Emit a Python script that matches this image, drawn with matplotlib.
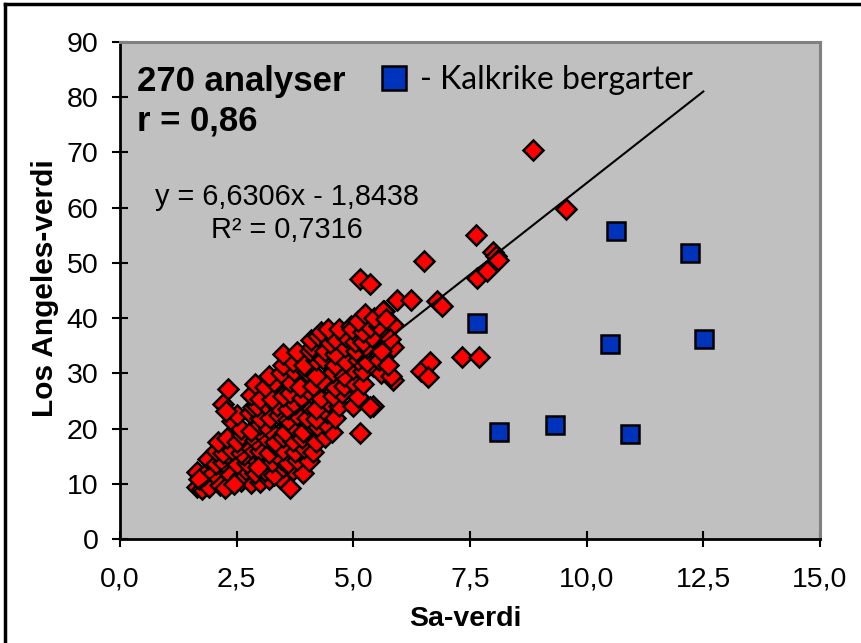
import matplotlib
matplotlib.use("Agg")
import matplotlib.pyplot as plt
from matplotlib.lines import Line2D
import numpy as np

plt.rcParams["font.family"] = ["Liberation Sans", "DejaVu Sans"]

# red diamonds: all analyses except the calcareous rocks
red_x = [
    8.85, 9.55, 7.62, 6.52, 8.00, 8.05, 8.10, 7.64, 7.87, 5.15, 5.36, 5.94, 6.24, 6.80, 6.91,
    7.32, 7.70, 6.44, 6.65, 6.59, 5.85, 5.86, 5.65, 5.84, 5.58, 5.15, 5.43, 5.15,
    1.65, 1.75, 1.90, 2.15, 2.25, 2.60, 2.80, 3.00, 3.20, 3.43, 3.65,
    1.65, 1.80, 2.00, 2.36, 2.58, 2.70, 2.90, 3.10, 3.30, 3.50, 3.70, 3.93, 1.70, 2.45,
    1.89, 2.05, 2.20, 2.36, 2.50, 2.73, 2.90, 3.07, 3.25, 3.45, 3.60, 3.80, 4.05, 2.65,
    2.05, 2.20, 2.40, 2.60, 2.80, 3.00, 3.20, 3.33, 3.50, 3.76, 3.95, 4.14, 2.95,
    2.10, 2.30, 2.50, 2.62, 2.90, 3.10, 3.33, 3.50, 3.70, 3.90, 4.20, 4.40,
    2.40, 2.60, 2.80, 3.00, 3.20, 3.54, 3.70, 3.93, 4.10, 4.23, 4.55, 4.40,
    2.50, 2.79, 3.00, 3.22, 3.40, 3.60, 3.80, 4.00, 4.20, 4.44, 4.60,
    2.21, 2.27, 2.85, 2.94, 3.10, 3.37, 3.60, 3.76, 4.00, 4.20, 4.45, 4.70, 5.00, 5.36,
    2.32, 2.80, 3.00, 3.26, 3.50, 3.65, 3.90, 4.10, 4.30, 4.57, 4.75, 5.09,
    2.90, 3.10, 3.30, 3.65, 3.85, 4.14, 4.35, 4.60, 4.79, 5.00, 5.20,
    3.20, 3.45, 3.72, 4.01, 4.20, 4.57, 4.80, 5.00, 5.20, 5.43, 5.60, 5.80,
    3.50, 3.70, 3.95, 4.20, 4.36, 4.60, 4.85, 5.10, 5.30, 5.55, 5.75,
    3.50, 3.80, 4.08, 4.12, 4.40, 4.60, 4.83, 5.05, 5.30, 5.60,
    4.10, 4.25, 4.50, 4.61, 4.85, 5.04, 5.21, 5.40, 5.79,
    4.30, 4.46, 4.70, 4.94, 4.98, 5.20, 5.36, 5.55,
    5.10, 5.26, 5.45, 5.64, 5.70,
]
red_y = [
    70.4, 59.7, 55.0, 50.4, 52.0, 51.2, 50.5, 47.3, 48.6, 47.0, 46.2, 43.2, 43.3, 43.1, 42.2,
    33.0, 33.0, 30.4, 32.0, 29.3, 28.8, 34.8, 41.2, 38.8, 37.5, 19.2, 24.0, 25.3,
    9.5, 9.0, 9.5, 9.8, 9.3, 10.5, 10.2, 10.4, 10.8, 11.1, 9.2,
    12.2, 11.5, 12.0, 11.7, 11.3, 12.5, 12.0, 12.3, 11.5, 13.1, 12.5, 12.0, 10.8, 10.0,
    14.4, 13.5, 14.0, 14.9, 13.5, 13.8, 14.5, 14.8, 14.0, 14.5, 13.8, 14.3, 14.2, 15.2,
    16.0, 15.5, 16.2, 15.5, 16.5, 16.0, 15.5, 17.1, 16.2, 15.8, 16.5, 15.7, 13.0,
    17.5, 18.2, 17.5, 18.9, 18.0, 18.5, 17.5, 18.5, 17.8, 18.2, 17.5, 18.5,
    21.3, 20.0, 19.5, 20.8, 20.0, 19.3, 20.5, 19.3, 20.8, 20.4, 19.3, 21.0,
    22.5, 22.9, 22.0, 22.0, 22.5, 21.5, 22.5, 22.0, 21.8, 22.9, 22.0,
    24.4, 23.1, 23.9, 24.0, 24.5, 24.0, 23.5, 24.4, 24.5, 23.5, 24.8, 24.0, 24.0, 23.9,
    27.1, 26.0, 25.3, 25.3, 25.9, 26.5, 25.5, 26.5, 25.5, 25.9, 26.5, 25.7,
    28.0, 27.5, 28.5, 28.4, 27.5, 27.7, 28.5, 27.5, 27.7, 28.5, 28.0,
    29.5, 30.0, 30.4, 30.2, 29.5, 30.2, 29.5, 30.8, 30.5, 31.3, 30.0, 29.5,
    31.5, 32.0, 31.5, 32.5, 32.6, 31.5, 32.0, 32.5, 32.0, 32.5, 31.5,
    33.5, 33.9, 34.0, 34.8, 34.0, 33.5, 34.8, 34.0, 34.5, 34.0,
    36.0, 36.8, 35.5, 36.2, 36.5, 35.7, 35.7, 36.5, 36.2,
    37.5, 38.1, 38.0, 38.6, 38.0, 37.5, 38.4, 38.5,
    39.5, 40.8, 40.0, 41.3, 39.8,
]

# blue squares: "Kalkrike bergarter"
blue_x = [7.64, 8.13, 9.33, 10.62, 10.51, 10.92, 12.21, 12.51]
blue_y = [39.1, 19.3, 20.7, 55.8, 35.3, 19.1, 51.8, 36.2]

slope, intercept = 6.6306, -1.8438
trend_x = [1.6, 12.5]

x_ticks = [0, 2.5, 5, 7.5, 10, 12.5, 15]
x_ticklabels = ["0,0", "2,5", "5,0", "7,5", "10,0", "12,5", "15,0"]
y_ticks = list(range(0, 100, 10))

fig = plt.figure(figsize=(8.61, 6.43), dpi=100)
ax = fig.add_axes([120 / 861, 1 - 539 / 643, 700 / 861, 497 / 643])
ax.set_facecolor("#c0c0c0")

ax.plot(red_x, red_y, "D", ms=10, mfc="#ff0000", mec="black", mew=1.8, zorder=3,
        clip_on=False)
ax.plot(blue_x, blue_y, "s", ms=13.5, mfc="#0033bb", mec="black", mew=1.8, zorder=3)
tx = np.array(trend_x)
ax.plot(tx, slope * tx + intercept, color="black", lw=1.5, zorder=4)

ax.set_xlim(0, 15)
ax.set_ylim(0, 90)
ax.set_xticks(x_ticks)
ax.set_xticklabels(x_ticklabels)
ax.set_yticks(y_ticks)
ax.tick_params(direction="inout", length=11, width=1.5, labelsize=20.5)
ax.tick_params(axis="x", pad=14)
ax.tick_params(axis="y", pad=10)

for side in ["left", "bottom"]:
    ax.spines[side].set_linewidth(2)
    ax.spines[side].set_color("black")
for side in ["top", "right"]:
    ax.spines[side].set_linewidth(2.2)
    ax.spines[side].set_color("#808080")

# labels inside the plot area
ax.text(0.36, 81.2, "270 analyser", fontsize=25, fontweight="bold", va="baseline")
ax.text(0.36, 74.0, "r = 0,86", fontsize=25, fontweight="bold", va="baseline")
ax.plot([5.88], [83.4], "s", ms=17.5, mfc="#0033bb", mec="black", mew=1.8, zorder=5)
ax.text(6.42, 81.4, "- Kalkrike bergarter", fontsize=23, va="baseline",
        family=["Lato", "DejaVu Sans"])
ax.text(3.58, 60.5, "y = 6,6306x - 1,8438", fontsize=20.8, ha="center", va="baseline")
ax.text(3.58, 54.5, "R² = 0,7316", fontsize=20.8, ha="center", va="baseline")

fig.text(45 / 861, 1 - 288 / 643, "Los Angeles-verdi", rotation=90, fontsize=21.5,
         fontweight="bold", ha="center", va="center")
fig.text(465 / 861, 1 - 619 / 643, "Sa-verdi", fontsize=20.5, fontweight="bold",
         ha="center", va="center")

# outer chart frame (only top and left edges are visible in the crop)
fig.add_artist(Line2D([5 / 861, 5 / 861], [0, 1 - 4 / 643], color="black", lw=2.5))
fig.add_artist(Line2D([5 / 861, 1], [1 - 4 / 643, 1 - 4 / 643], color="black", lw=2.5))

fig.savefig("out.png", dpi=100)
